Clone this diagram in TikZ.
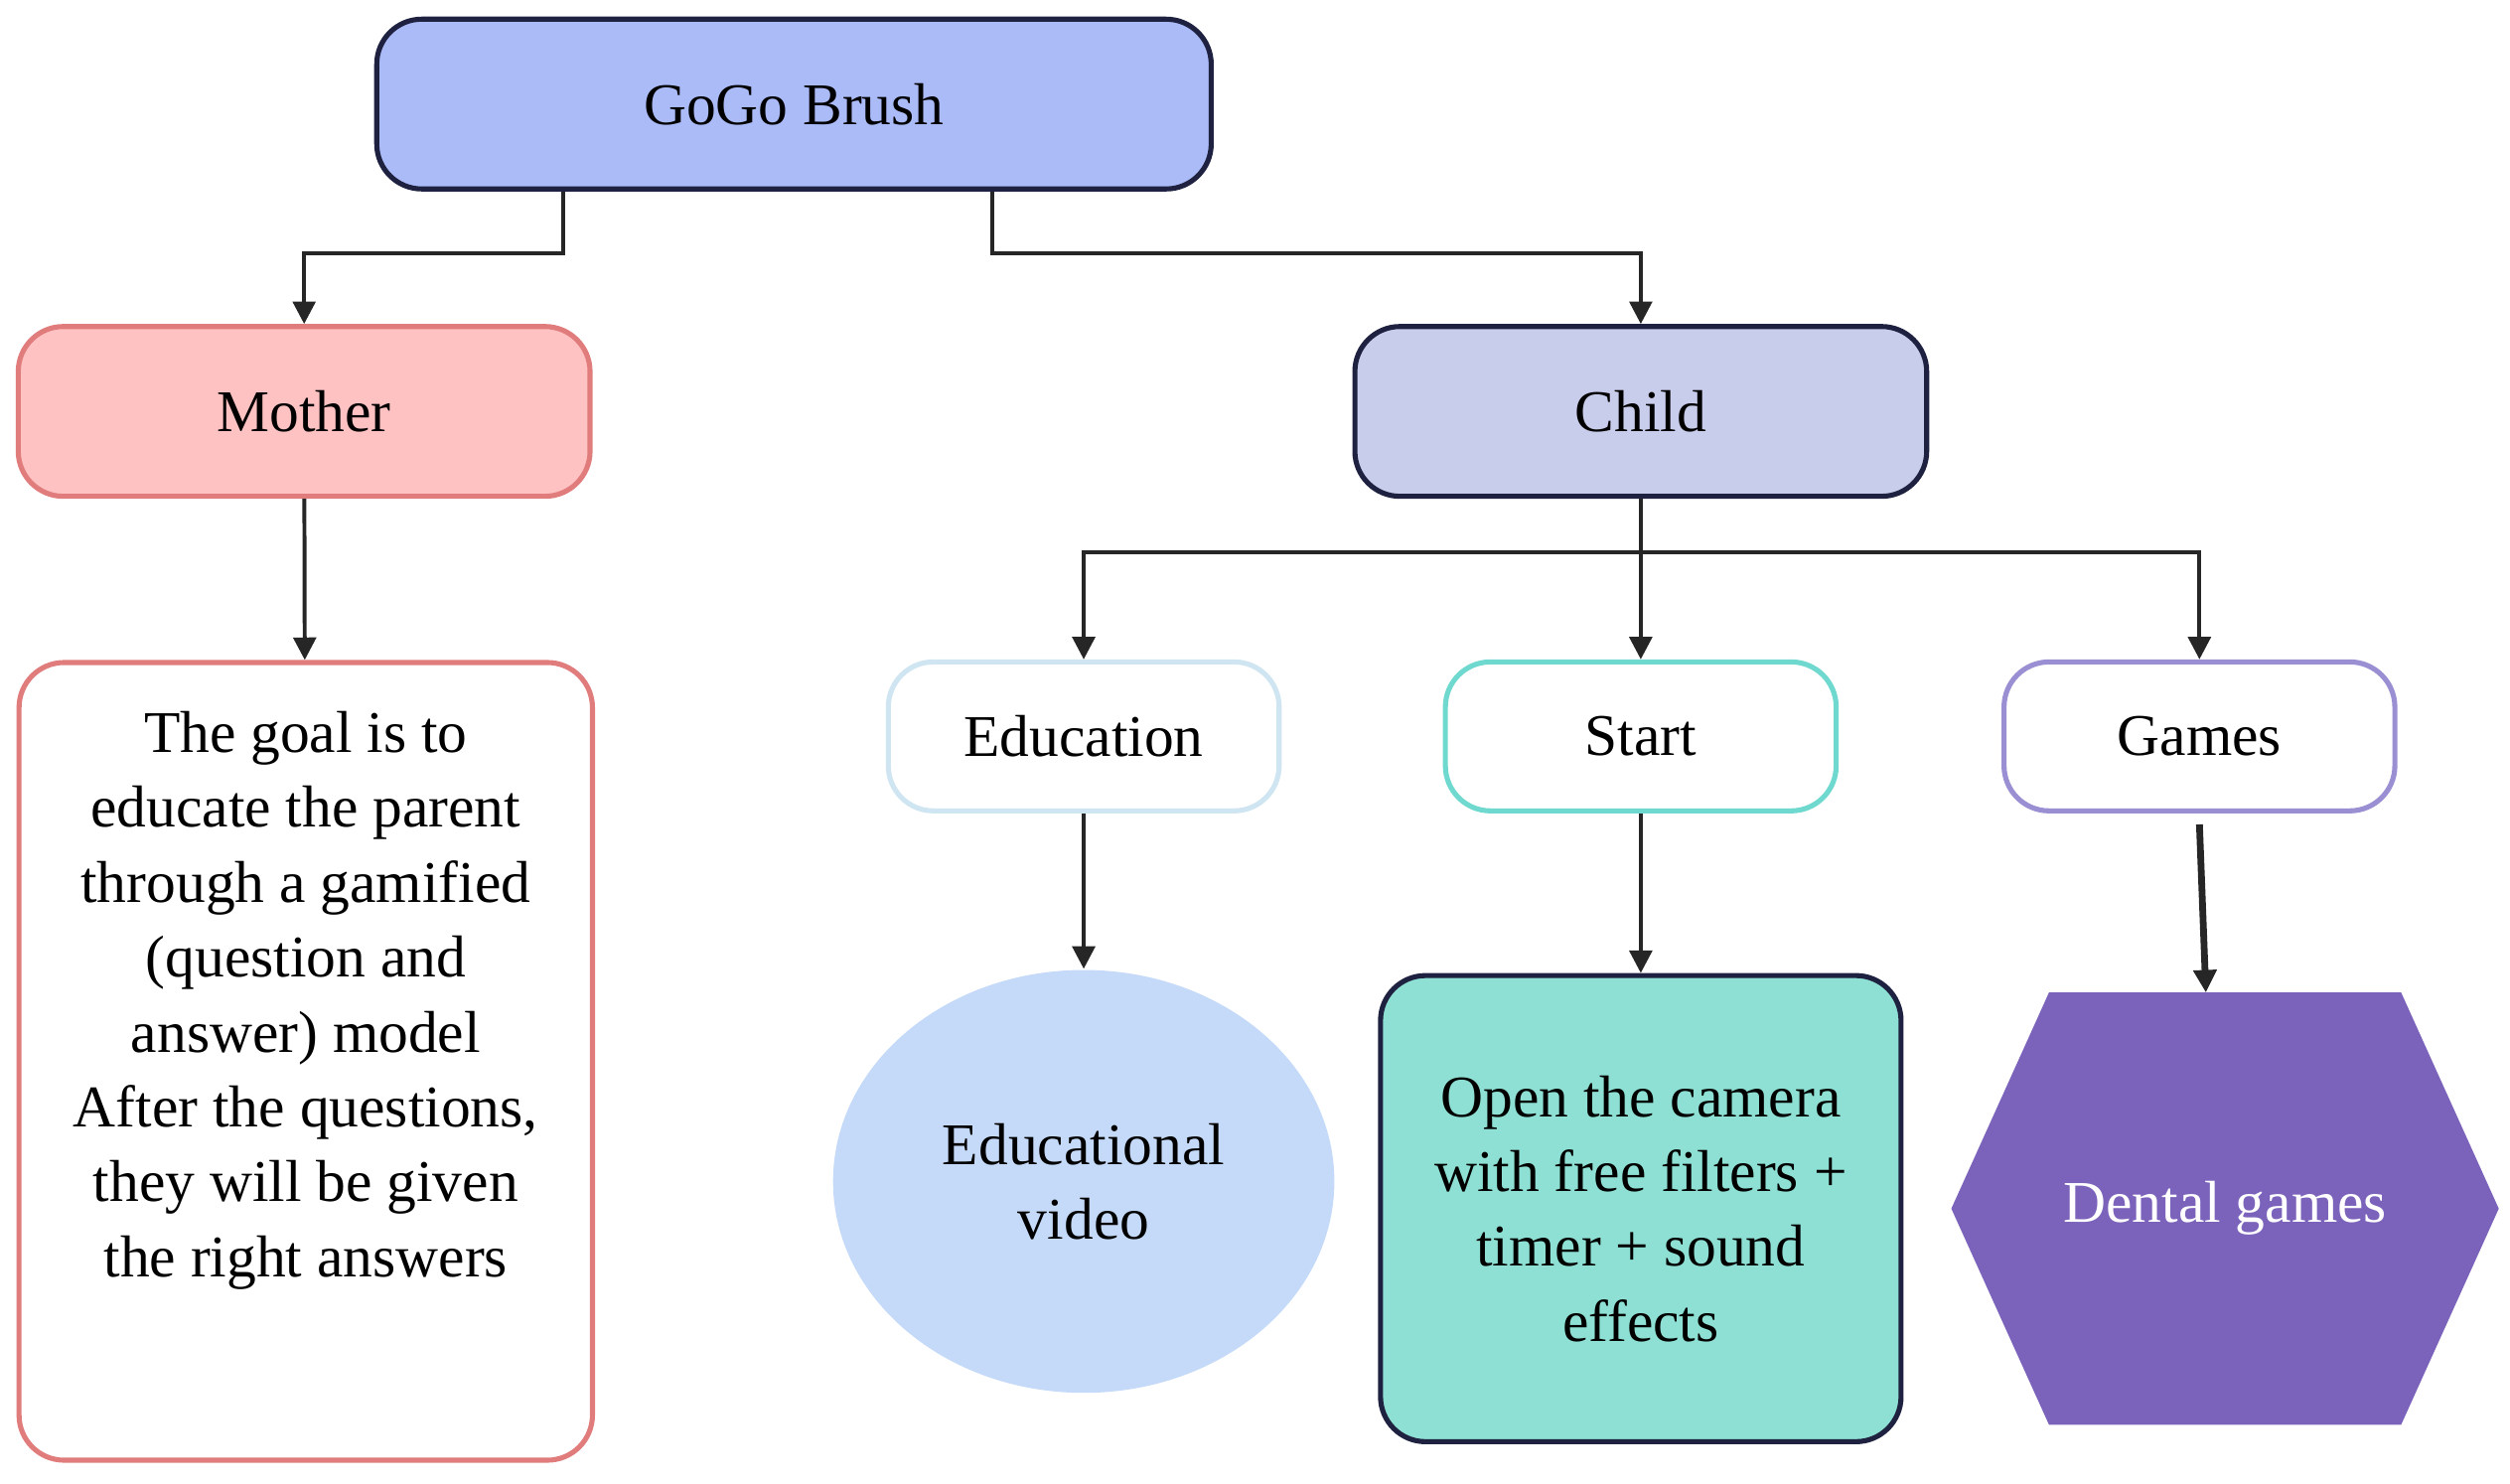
\documentclass[tikz,border=0pt]{standalone}
\usepackage{fontspec}
\setmainfont{Liberation Serif}
\usetikzlibrary{arrows.meta,shapes.geometric}
\definecolor{topfill}{HTML}{AABBF8}
\definecolor{navy}{HTML}{1E2240}
\definecolor{momfill}{HTML}{FFC2C2}
\definecolor{momline}{HTML}{E07C7C}
\definecolor{kidfill}{HTML}{C9CDEC}
\definecolor{eduline}{HTML}{CFE6F2}
\definecolor{startline}{HTML}{6FD8CF}
\definecolor{gameline}{HTML}{9A8FD2}
\definecolor{vidfill}{HTML}{C5DAF8}
\definecolor{camfill}{HTML}{8EE0D4}
\definecolor{hexfill}{HTML}{7B62BB}
\begin{document}
\begin{tikzpicture}[x=0.01cm, y=-0.01cm, font=\fontsize{10.5}{13.3}\selectfont]
		% Styles
		\tikzstyle{box}=[rectangle,rounded corners=8pt,draw=navy,line width=0.9pt,inner sep=0pt,align=center]
		\tikzstyle{small}=[box,minimum width=244\pgflinewidth,fill=white,line width=0.8pt]
		\tikzstyle{link}=[draw=black!85,line width=0.7pt,-{Triangle[length=4pt,width=4pt]}]
		\useasboundingbox (0,0) rectangle (1568,927);

		% Top level
		\node[box,fill=topfill,minimum width=5.21cm,minimum height=1.06cm] (brush) at (496,65) {GoGo Brush};
		\node[box,fill=momfill,draw=momline,minimum width=3.57cm,minimum height=1.06cm] (mother) at (190,257) {Mother};
		\node[box,fill=kidfill,minimum width=3.57cm,minimum height=1.06cm] (child) at (1025,257) {Child};

		% Mother branch
		\node[box,draw=momline,minimum width=3.58cm,minimum height=4.98cm] (goal) at (191,663) {};
		\node[anchor=north,align=center] (goaltext) at (191,432) {The goal is to\\educate the parent\\through a gamified\\(question and\\answer) model\\After the questions,\\they will be given\\the right answers};

		% Child branch
		\foreach \name/\x/\col/\txt in {edu/677/eduline/Education, start/1025/startline/Start, games/1374/gameline/Games}
		\node[box,draw=\col,fill=white,minimum width=2.44cm,minimum height=0.93cm] (\name) at (\x,460) {\txt};

		\node[ellipse,fill=vidfill,minimum width=3.13cm,minimum height=2.64cm,align=center] (video) at (677,738) {Educational\\video};
		\node[box,fill=camfill,minimum width=3.25cm,minimum height=2.91cm] (camera) at (1025,755) {Open the camera\\with free filters +\\timer + sound\\effects};
		\fill[hexfill] (1219,755) -- (1280,620) -- (1500,620) -- (1561,755) -- (1500,890) -- (1280,890) -- cycle;
		\node[text=white] (dental) at (1390,755) {Dental games};
		\coordinate (hextop) at (1378,620);

		% Connectors
		\path[link] (brush.south -| 352,0) |- (190,158) -- (mother);
		\path[link] (brush.south -| 620,0) |- (1025,158) -- (child);
		\path[link] (mother) -- (goal);
		\path[link] (child) -- (start);
		\path[link] (child.south) |- (677,345) -- (edu);
		\path[link] (child.south) |- (1374,345) -- (games);
		\path[link] (edu) -- (video);
		\path[link] (start) -- (camera);
		\path[link,line width=1.2pt] (games.south |- 0,515) -- (hextop);
	\end{tikzpicture}
\end{document}
